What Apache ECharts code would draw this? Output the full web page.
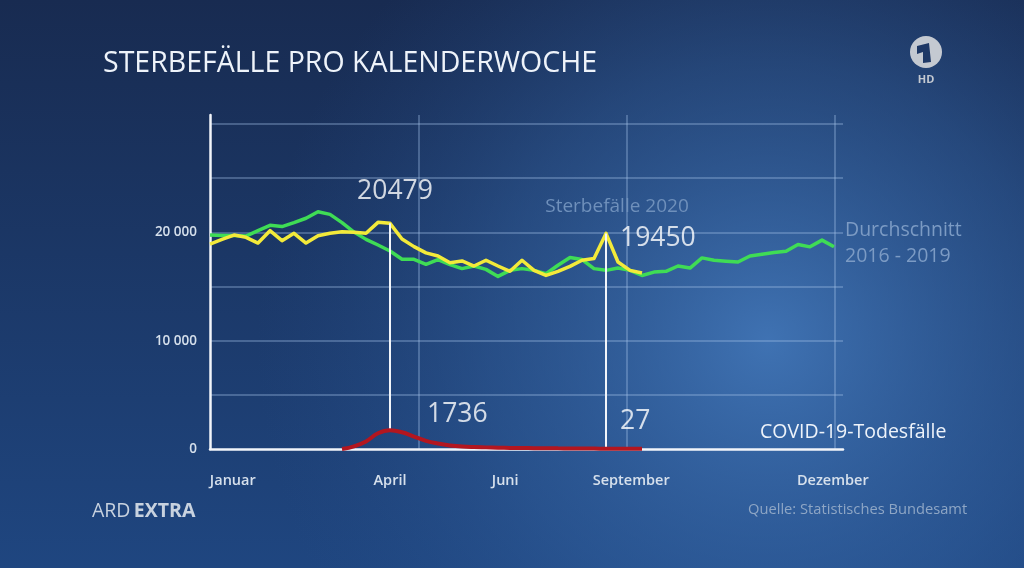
<!DOCTYPE html>
<html>
<head>
<meta charset="utf-8">
<script src="https://cdn.jsdelivr.net/npm/echarts@6/dist/echarts.min.js"></script>
<style>
html,body{margin:0;padding:0;width:1024px;height:568px;overflow:hidden;background:#1b3160;}
#chart{width:1024px;height:568px;}
</style>
</head>
<body>
<div id="chart"></div>
<script>
// ---- data ----
const title = 'STERBEFÄLLE PRO KALENDERWOCHE';
// average deaths per calendar week 2016-2019 (weeks 1..53)
const average2016to2019 = [
  19750, 19700, 19700, 19650, 20150, 20650, 20530, 20900, 21300, 21900,
  21660, 20900, 20030, 19350, 18830, 18280, 17510, 17510, 17050, 17490,
  17020, 16650, 16890, 16580, 15930, 16490, 16650, 16490, 16180, 16960,
  17670, 17490, 16650, 16490, 16700, 16490, 16020, 16330, 16400, 16890,
  16700, 17640, 17420, 17340, 17260, 17820, 17980, 18140, 18260, 18880,
  18660, 19280, 18660
];
// deaths per calendar week 2020 (weeks 1..37)
const deaths2020 = [
  18920, 19350, 19750, 19540, 19010, 20150, 19230, 19910, 19010, 19690,
  19910, 20060, 20000, 19910, 20920, 20830, 19380, 18680, 18100, 17820,
  17200, 17360, 16890, 17420, 16890, 16400, 17420, 16490, 16020, 16400,
  16860, 17420, 17580, 19900, 17260, 16490, 16240
];
// COVID-19 deaths per calendar week, starting at week 12
const covidStartWeek = 12;
const covidDeaths = [
  0, 250, 700, 1450, 1736, 1550, 1150, 750, 500, 330,
  230, 180, 150, 120, 100, 90, 80, 70, 60, 55,
  45, 35, 27, 27, 27, 27
];
// highlighted weeks and their annotation numbers
const peakWeeks = [16, 34];
const peakTotals = ['20479', '19450'];
const peakCovid = ['1736', '27'];
// axis labels
const monthWeeks = [2.9, 16, 25.6, 36.1, 52.9];
const monthNames = ['Januar', 'April', 'Juni', 'September', 'Dezember'];
const yLabelValues = [0, 10000, 20000];
const yLabelTexts = ['0', '10 000', '20 000'];
const seriesNames = ['Durchschnitt\n2016 - 2019', 'Sterbefälle 2020', 'COVID-19-Todesfälle'];
const sourceText = 'Quelle: Statistisches Bundesamt';

// ---- build ----
const greenData = average2016to2019.map((v, i) => [i + 1, v]);
const yellowData = deaths2020.map((v, i) => [i + 1, v]);
const redData = covidDeaths.map((v, i) => [covidStartWeek + i, v]);
const covidAt = w => covidDeaths[w - covidStartWeek];
const totalAt = w => deaths2020[w - 1];

const FONT = '"Open Sans", "Noto Sans", sans-serif';
const chart = echarts.init(document.getElementById('chart'), null, {renderer: 'canvas'});

const option = {
  animation: false,
  backgroundColor: new echarts.graphic.LinearGradient(0, 0, 0, 1, [
    {offset: 0, color: '#182b51'},
    {offset: 1, color: '#1f4680'}
  ]),
  textStyle: {fontFamily: FONT},
  graphic: [
    {
      type: 'rect', z: -10, silent: true,
      shape: {x: 0, y: 0, width: 1024, height: 568},
      style: {fill: new echarts.graphic.RadialGradient(0.75, 0.6, 0.9, [
        {offset: 0, color: 'rgba(72,128,196,0.8)'},
        {offset: 0.55, color: 'rgba(55,105,170,0.4)'},
        {offset: 1, color: 'rgba(40,80,140,0)'}
      ])}
    },
    {
      type: 'text', x: 103, y: 64,
      style: {text: title, fill: '#eef3fa', font: '400 28.5px ' + FONT, verticalAlign: 'middle'}
    },
    {
      type: 'circle', shape: {cx: 926, cy: 52, r: 16},
      style: {fill: '#c4c9d1'}
    },
    {
      type: 'polygon',
      shape: {points: [[917, 46], [929, 43], [931, 62], [923, 63], [923, 52], [917, 54]]},
      style: {fill: '#1e3866'}
    },
    {
      type: 'text', x: 926, y: 80,
      style: {text: 'HD', fill: '#c4c9d1', font: '700 11px ' + FONT, align: 'center', verticalAlign: 'middle'}
    },
    {
      type: 'text', x: 92, y: 511,
      style: {
        text: '{a|ARD} {b|EXTRA}', verticalAlign: 'middle',
        rich: {
          a: {fill: '#c8d2df', font: '400 19.5px ' + FONT},
          b: {fill: '#c8d2df', font: '700 19.5px ' + FONT}
        }
      }
    },
    {
      type: 'text', x: 748, y: 510,
      style: {text: sourceText, fill: '#8ea6c5', font: '400 14.7px ' + FONT, verticalAlign: 'middle'}
    }
  ],
  grid: {left: 210, right: 181, top: 115, bottom: 119, containLabel: false},
  xAxis: [
    {
      type: 'value', min: 1, max: 53.75,
      axisLine: {show: true, onZero: false, lineStyle: {color: '#f2f5fa', width: 2.5}},
      axisTick: {show: false},
      splitLine: {show: false},
      axisLabel: {
        show: true,
        customValues: monthWeeks,
        margin: 24,
        color: '#d6e0ec', fontSize: 14.5, fontWeight: 600, fontFamily: FONT,
        formatter: v => {
          const i = monthWeeks.findIndex(m => Math.abs(m - v) < 1e-6);
          return i >= 0 ? monthNames[i] : '';
        }
      }
    },
    {
      type: 'value', min: 0, max: 3.038, interval: 1,
      axisLine: {show: false}, axisTick: {show: false}, axisLabel: {show: false},
      splitLine: {show: true, showMinLine: false, showMaxLine: false,
        lineStyle: {color: 'rgba(165,192,230,0.45)', width: 1.5}}
    }
  ],
  yAxis: {
    type: 'value', min: 0, max: 30830, interval: 5000,
    axisLine: {show: true, onZero: false, lineStyle: {color: '#f2f5fa', width: 2.5}},
    axisTick: {show: false},
    splitLine: {show: true, showMinLine: false, showMaxLine: false,
      lineStyle: {color: 'rgba(165,192,230,0.45)', width: 1.5}},
    axisLabel: {
      margin: 13, color: '#d6e0ec', fontSize: 13.5, fontWeight: 600, fontFamily: FONT,
      showMaxLabel: false,
      formatter: v => {
        const i = yLabelValues.indexOf(v);
        return i >= 0 ? yLabelTexts[i] : '';
      }
    }
  },
  series: [
    {
      name: seriesNames[0], type: 'line', data: greenData, xAxisIndex: 0,
      symbol: 'none', z: 3,
      lineStyle: {color: '#3fdc55', width: 3.5, join: 'round'},
      endLabel: {
        show: true, formatter: seriesNames[0], distance: 11, offset: [0, -3],
        color: '#7c9bc4', fontSize: 19.5, lineHeight: 26, fontFamily: FONT
      }
    },
    {
      name: seriesNames[1], type: 'line', data: yellowData, xAxisIndex: 0,
      symbol: 'none', z: 4,
      lineStyle: {color: '#f3ea3a', width: 3.5, join: 'round'},
      endLabel: {
        show: true, formatter: seriesNames[1], position: 'top', distance: 0, offset: [-25, -66],
        align: 'center', verticalAlign: 'middle',
        color: '#6f90bb', fontSize: 19, fontFamily: FONT
      },
      markLine: {
        silent: true, symbol: 'none', animation: false,
        label: {show: false},
        lineStyle: {color: '#f2f5fa', width: 2, type: 'solid'},
        data: peakWeeks.map(w => [
          {coord: [w, covidAt(w)]},
          {coord: [w, totalAt(w)]}
        ])
      }
    },
    {
      name: seriesNames[2], type: 'line', data: redData, xAxisIndex: 0,
      symbol: 'none', smooth: 0.4, z: 5,
      lineStyle: {color: '#b3161f', width: 4},
      endLabel: {
        show: true, formatter: seriesNames[2], distance: 5, offset: [113, -16],
        color: '#eef3fa', fontSize: 19.5, fontFamily: FONT
      }
    },
    {
      name: 'totals', type: 'scatter', xAxisIndex: 0, symbolSize: 0, z: 6, silent: true,
      data: peakWeeks.map((w, i) => ({
        value: [w, totalAt(w)],
        label: i === 0
          ? {show: true, position: 'top', distance: 18, offset: [5, 0], formatter: peakTotals[i]}
          : {show: true, position: 'right', distance: 14, offset: [0, 5], formatter: peakTotals[i]}
      })),
      label: {color: '#ffffff', fontSize: 26.5, fontFamily: FONT}
    },
    {
      name: 'covid', type: 'scatter', xAxisIndex: 0, symbolSize: 0, z: 6, silent: true,
      data: peakWeeks.map((w, i) => ({
        value: [w, covidAt(w)],
        label: i === 0
          ? {show: true, position: 'right', distance: 37, offset: [0, -16], formatter: peakCovid[i]}
          : {show: true, position: 'right', distance: 14, offset: [0, -27], formatter: peakCovid[i]}
      })),
      label: {color: '#ffffff', fontSize: 26.5, fontFamily: FONT}
    }
  ]
};
chart.setOption(option);
</script>
</body>
</html>
